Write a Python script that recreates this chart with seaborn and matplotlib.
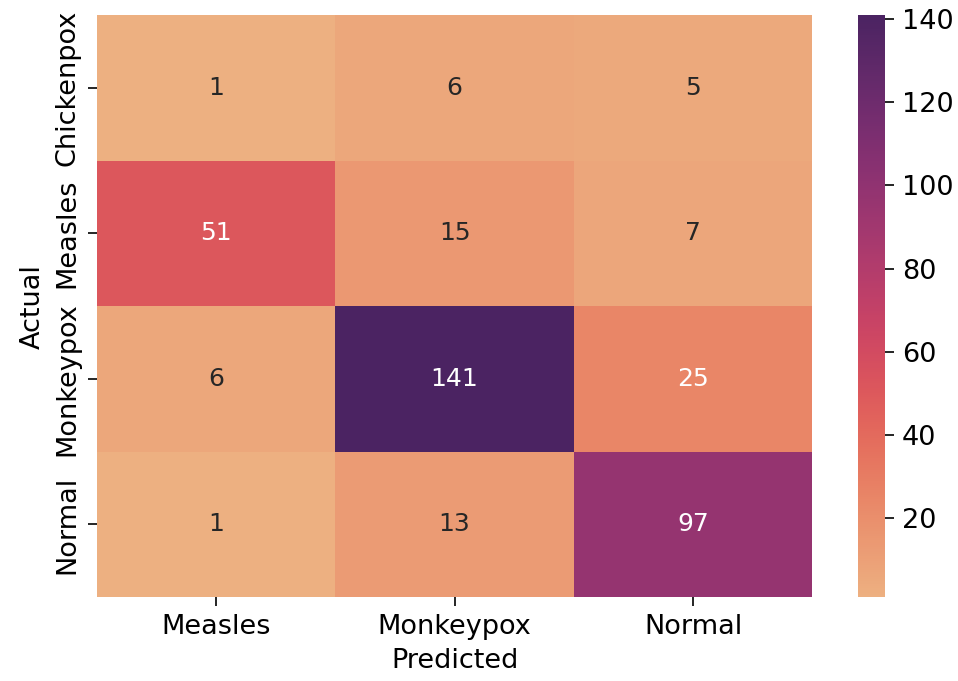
import numpy as np
import pandas as pd
import seaborn as sns
import matplotlib
matplotlib.use("Agg")
import matplotlib.pyplot as plt

# Confusion matrix: rows are actual classes, columns are predicted classes
actual_labels = ["Chickenpox", "Measles", "Monkeypox", "Normal"]
predicted_labels = ["Measles", "Monkeypox", "Normal"]
row_chickenpox = [1, 6, 5]
row_measles = [51, 15, 7]
row_monkeypox = [6, 141, 25]
row_normal = [1, 13, 97]

cm = pd.DataFrame(
    [row_chickenpox, row_measles, row_monkeypox, row_normal],
    index=actual_labels,
    columns=predicted_labels,
)

fig = plt.figure(figsize=(958 / 150, 681 / 150), dpi=150)
ax = fig.add_axes([0.101, 0.123, 0.747, 0.855])
cax = fig.add_axes([0.896, 0.123, 0.028, 0.855])

sns.heatmap(cm, annot=True, fmt="d", cmap="flare", ax=ax, cbar_ax=cax,
            annot_kws={"fontsize": 12})
ax.set_xlabel("Predicted", fontsize=13)
ax.set_ylabel("Actual", fontsize=13)
ax.tick_params(labelsize=13, length=4.5)
cax.tick_params(labelsize=13, length=4.5)

fig.savefig("out.png", dpi=150)
